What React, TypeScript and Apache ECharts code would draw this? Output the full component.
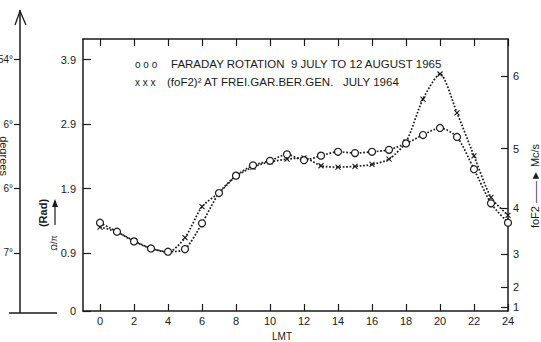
import React, { useEffect, useRef } from "react";
import * as echarts from "echarts";

// ---- data ----
const hours = [0, 1, 2, 3, 4, 5, 6, 7, 8, 9, 10, 11, 12, 13, 14, 15, 16, 17, 18, 19, 20, 21, 22, 23, 24];
// Faraday rotation, Ω/π (rad) – left axis
const faradayRad = [1.37, 1.23, 1.08, 0.97, 0.92, 0.96, 1.36, 1.83, 2.1, 2.26, 2.33, 2.43, 2.34, 2.41, 2.47, 2.45, 2.47, 2.5, 2.6, 2.73, 2.84, 2.7, 2.2, 1.67, 1.37];
// (foF2)^2 at Freiburg / Garchy / Berlin / Genova – right axis (square scale)
const foF2Squared = [13.1, 12.4, 11.0, 9.9, 9.3, 11.5, 16.2, 18.3, 20.8, 22.2, 23.0, 23.4, 23.6, 22.4, 22.2, 22.3, 22.6, 23.4, 26.0, 32.5, 36.3, 30.4, 23.9, 17.6, 14.9];

const xTicks = [0, 2, 4, 6, 8, 10, 12, 14, 16, 18, 20, 22, 24];
const leftTicks = [0, 0.9, 1.9, 2.9, 3.9];
const rightTickLabels = [1, 2, 3, 4, 5, 6];
const degreeTickValues = [0.9, 1.9, 2.9, 3.9];
const degreeTickLabels = ["7°", "6°", "6°", "54°"];

const legendLine1 = "FARADAY ROTATION  9 JULY TO 12 AUGUST 1965";
const legendLine2 = "(foF2)² AT FREI.GAR.BER.GEN.   JULY 1964";

const FONT = "Liberation Sans, Arial, sans-serif";
const INK = "#1a1a1a";

export default function App() {
  const ref = useRef<HTMLDivElement>(null);

  useEffect(() => {
    if (!ref.current) return;
    const chart = echarts.init(ref.current, undefined, { renderer: "svg" });

    const xCommon = {
      type: "value" as const,
      min: -1,
      max: 24,
      splitLine: { show: false },
      axisLine: { show: true, onZero: false, lineStyle: { color: INK, width: 1.5 } },
      axisTick: { show: true, inside: true, length: 7, customValues: xTicks, lineStyle: { color: INK, width: 1.2 } },
    };

    const option: any = {
      animation: false,
      backgroundColor: "#fff",
      grid: { left: 83, right: 33, top: 39, bottom: 31, containLabel: false, outerBoundsMode: "none" },
      xAxis: [
        {
          ...xCommon,
          position: "bottom",
          axisLabel: { customValues: xTicks, margin: 4, fontSize: 11, color: INK, fontFamily: FONT },
        },
        {
          ...xCommon,
          position: "top",
          axisLabel: { show: false },
        },
      ],
      yAxis: [
        {
          type: "value",
          position: "left",
          min: 0,
          max: 4.22,
          splitLine: { show: false },
          axisLine: { show: true, onZero: false, lineStyle: { color: INK, width: 1.5 } },
          axisTick: { show: true, inside: true, length: 8, customValues: leftTicks, lineStyle: { color: INK, width: 1.2 } },
          axisLabel: {
            customValues: leftTicks,
            margin: 7,
            fontSize: 11,
            color: INK,
            fontFamily: FONT,
            formatter: (v: number) => (v === 0 ? "0" : v.toFixed(1)),
          },
        },
        {
          type: "value",
          position: "right",
          min: 0.4,
          max: 41.6,
          splitLine: { show: false },
          axisLine: { show: true, onZero: false, lineStyle: { color: INK, width: 1.5 } },
          axisTick: {
            show: true,
            inside: true,
            length: 7,
            customValues: rightTickLabels.map((t) => t * t),
            lineStyle: { color: INK, width: 1.2 },
          },
          axisLabel: {
            customValues: rightTickLabels.map((t) => t * t),
            margin: 5,
            fontSize: 11,
            color: INK,
            fontFamily: FONT,
            formatter: (v: number) => String(Math.round(Math.sqrt(v))),
          },
        },
        {
          type: "value",
          position: "left",
          offset: 63,
          min: 0,
          max: 4.22,
          splitLine: { show: false },
          axisLine: { show: false, onZero: false },
          axisTick: { show: true, inside: false, length: 6, customValues: degreeTickValues, lineStyle: { color: INK, width: 1.2 } },
          axisLabel: {
            customValues: degreeTickValues,
            margin: 7,
            fontSize: 10,
            color: INK,
            fontFamily: FONT,
            formatter: (v: number) => {
              const i = degreeTickValues.findIndex((d) => Math.abs(d - v) < 1e-6);
              return i >= 0 ? degreeTickLabels[i] : "";
            },
          },
        },
      ],
      series: [
        {
          name: "Faraday rotation",
          type: "line",
          xAxisIndex: 0,
          yAxisIndex: 0,
          data: hours.map((h, i) => [h, faradayRad[i]]),
          smooth: 0.25,
          symbol: "circle",
          symbolSize: 7,
          lineStyle: { type: "dotted", width: 1.7, color: INK },
          itemStyle: { color: "#fff", borderColor: INK, borderWidth: 1.2 },
          z: 3,
        },
        {
          name: "(foF2)^2",
          type: "line",
          xAxisIndex: 0,
          yAxisIndex: 1,
          data: hours.map((h, i) => [h, foF2Squared[i]]),
          smooth: 0.25,
          symbol: "path://M0,0L10,10M10,0L0,10",
          symbolSize: 5,
          lineStyle: { type: "dotted", width: 1.7, color: INK },
          itemStyle: { color: INK, borderColor: INK, borderWidth: 1.1 },
          z: 2,
        },
      ],
      graphic: [
        // far-left degrees axis
        { type: "line", shape: { x1: 20, y1: 313, x2: 20, y2: 10 }, style: { stroke: INK, lineWidth: 1.5 } },
        { type: "polyline", shape: { points: [[15, 25], [20, 11], [26, 25]] }, style: { stroke: INK, lineWidth: 1.3, fill: "none" } },
        { type: "line", shape: { x1: 9, y1: 313, x2: 57, y2: 313 }, style: { stroke: INK, lineWidth: 1.5 } },
        {
          type: "text",
          x: 4,
          y: 156,
          rotation: -Math.PI / 2,
          style: { text: "degrees", fill: INK, font: `11px ${FONT}`, align: "center", verticalAlign: "middle" },
        },
        // left axis name
        {
          type: "text",
          x: 43,
          y: 213,
          rotation: Math.PI / 2,
          style: { text: "(Rad)", fill: INK, font: `bold 11px ${FONT}`, align: "center", verticalAlign: "middle" },
        },
        { type: "line", shape: { x1: 55, y1: 225, x2: 55, y2: 205 }, style: { stroke: INK, lineWidth: 1.2 } },
        { type: "polygon", shape: { points: [[52, 207], [55, 199], [58, 207]] }, style: { fill: INK } },
        {
          type: "text",
          x: 54,
          y: 243,
          rotation: Math.PI / 2,
          style: { text: "Ω/π", fill: INK, font: `9px ${FONT}`, align: "center", verticalAlign: "middle" },
        },
        // right axis name
        {
          type: "text",
          x: 535,
          y: 186,
          rotation: Math.PI / 2,
          style: { text: "foF2 ——► Mc/s", fill: INK, font: `11px ${FONT}`, align: "center", verticalAlign: "middle" },
        },
        // x axis name
        {
          type: "text",
          x: 282,
          y: 336,
          style: { text: "LMT", fill: INK, font: `10px ${FONT}`, align: "center", verticalAlign: "middle" },
        },
        // legend
        {
          type: "text",
          x: 135,
          y: 64,
          style: { text: "o o o", fill: INK, font: `10px ${FONT}`, align: "left", verticalAlign: "middle" },
        },
        {
          type: "text",
          x: 171,
          y: 64,
          style: { text: legendLine1, fill: INK, font: `11.5px ${FONT}`, align: "left", verticalAlign: "middle" },
        },
        {
          type: "text",
          x: 135,
          y: 82,
          style: { text: "x x x", fill: INK, font: `10px ${FONT}`, align: "left", verticalAlign: "middle" },
        },
        {
          type: "text",
          x: 167,
          y: 82,
          style: { text: legendLine2, fill: INK, font: `11.5px ${FONT}`, align: "left", verticalAlign: "middle" },
        },
      ],
    };

    chart.setOption(option);
    return () => chart.dispose();
  }, []);

  return (
    <div
      ref={ref}
      style={{ position: "fixed", left: 0, top: 0, width: 541, height: 342, background: "#fff" }}
    />
  );
}
